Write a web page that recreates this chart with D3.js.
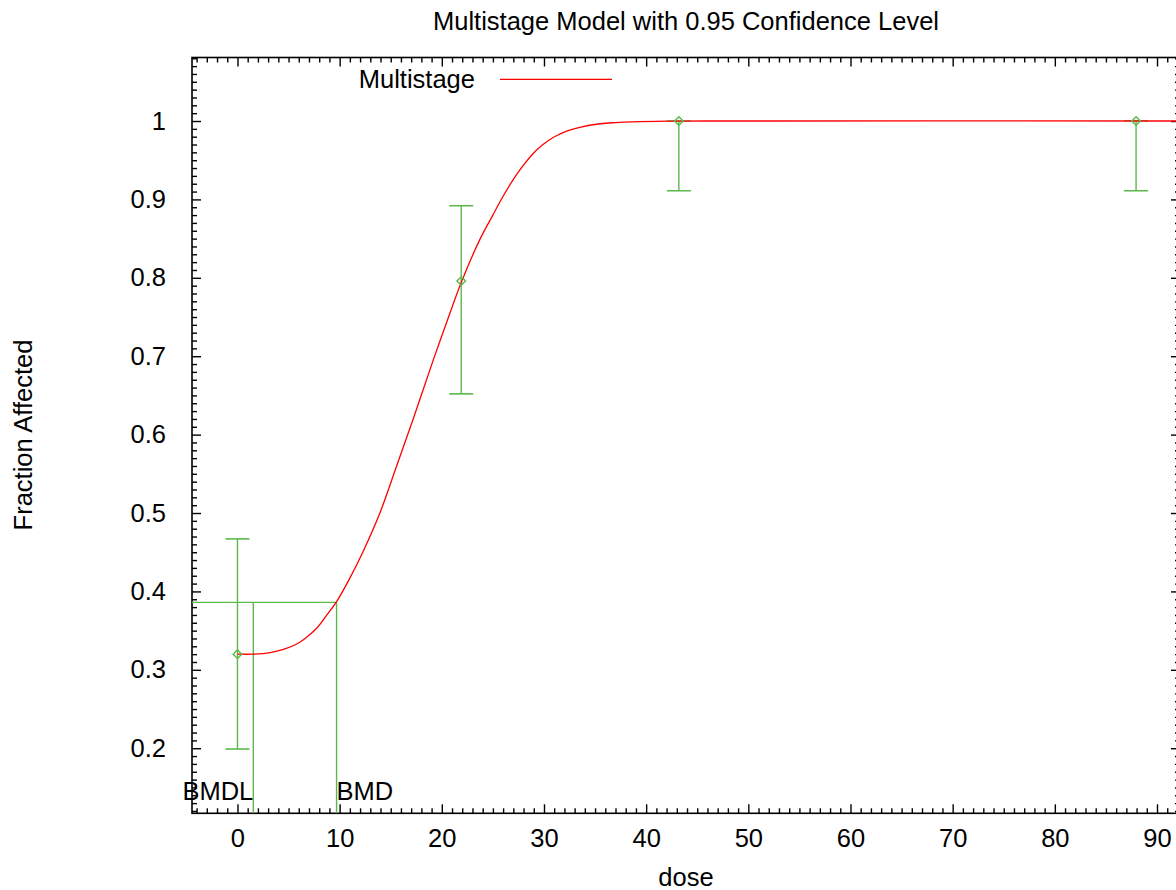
<!DOCTYPE html>
<html>
<head>
<meta charset="utf-8">
<script src="https://cdn.jsdelivr.net/npm/d3@7/dist/d3.min.js"></script>
<style>
  html, body { margin: 0; padding: 0; background: #fff; }
  svg { display: block; }
  text { font-family: "Liberation Sans", Arial, Helvetica, sans-serif; fill: #000; }
</style>
</head>
<body>
<svg id="chart" width="1176" height="890"></svg>
<script>
// ---- Data ----
const doses      = [0, 21.9, 43.2, 87.95];
const fractions  = [0.320, 0.796, 1.000, 1.000];
const ciLower    = [0.199, 0.652, 0.911, 0.911];
const ciUpper    = [0.467, 0.892, 1.000, 1.000];

// Fitted multistage curve
const curveDose     = [0, 1.5, 3.2, 4.5, 5.8, 6.8, 7.75, 8.7, 9.7, 11.0, 12.3, 13.94, 15.5, 17.2, 19.16, 20.47, 21.93, 23.73, 25.0, 26.0, 27.5, 28.9, 29.9, 30.9, 31.5, 32.2, 33.5, 35.5, 37.0, 38.7, 42, 46, 92.4];
const curveFraction = [0.320, 0.320, 0.322, 0.326, 0.333, 0.342, 0.353, 0.369, 0.387, 0.417, 0.451, 0.500, 0.557, 0.620, 0.695, 0.743, 0.795, 0.849, 0.880, 0.904, 0.935, 0.958, 0.970, 0.979, 0.983, 0.987, 0.992, 0.9965, 0.998, 0.999, 0.9998, 1.0, 1.0];

const bmd = 9.7;
const bmdl = 1.55;
const bmrLevel = 0.386;

const xTickValues = [0, 10, 20, 30, 40, 50, 60, 70, 80, 90];
const xTickLabels = ["0", "10", "20", "30", "40", "50", "60", "70", "80", "90"];
const yTickValues = [0.2, 0.3, 0.4, 0.5, 0.6, 0.7, 0.8, 0.9, 1.0];
const yTickLabels = ["0.2", "0.3", "0.4", "0.5", "0.6", "0.7", "0.8", "0.9", "1"];

const titleText = "Multistage Model with 0.95 Confidence Level";
const xLabelText = "dose";
const yLabelText = "Fraction Affected";
const legendLabel = "Multistage";

// ---- Layout ----
const pLeft = 192, pRight = 1180, pTop = 57.5, pBottom = 813.3;
const RED = "#ff0000", GREEN = "#5cb84c";
const FS = 25.5;

const svg = d3.select("#chart");

const x = d3.scaleLinear().domain([-4.45, 92.25]).range([pLeft, pRight]);
const y = d3.scaleLinear().domain([0.117, 1.081]).range([pBottom, pTop]);

const xMinor = d3.range(-4, 93, 1).filter(v => v % 10 !== 0);
const yMinor = d3.range(12, 109, 1).map(v => v / 100).filter(v => Math.round(v * 100) % 10 !== 0);

svg.append("defs").append("clipPath").attr("id", "plotclip")
  .append("rect").attr("x", pLeft).attr("y", pTop).attr("width", pRight - pLeft).attr("height", pBottom - pTop);

function styleAxis(g) {
  g.select(".domain").remove();
  g.selectAll(".tick line").attr("stroke", "#000").attr("stroke-width", 1.4);
  g.selectAll(".tick text").style("font-size", FS + "px").attr("fill", "#000")
    .style("font-family", '"Liberation Sans", Arial, sans-serif');
}

// Bottom axis
svg.append("g").attr("transform", `translate(0,${pBottom})`)
  .call(d3.axisBottom(x).tickValues(xTickValues).tickSize(-9).tickSizeOuter(0).tickPadding(16)
    .tickFormat((d, i) => xTickLabels[i]))
  .call(styleAxis);
svg.append("g").attr("transform", `translate(0,${pBottom})`)
  .call(d3.axisBottom(x).tickValues(xMinor).tickSize(-5).tickSizeOuter(0).tickFormat(""))
  .call(styleAxis);
// Top axis
svg.append("g").attr("transform", `translate(0,${pTop})`)
  .call(d3.axisTop(x).tickValues(xTickValues).tickSize(-9).tickSizeOuter(0).tickFormat(""))
  .call(styleAxis);
svg.append("g").attr("transform", `translate(0,${pTop})`)
  .call(d3.axisTop(x).tickValues(xMinor).tickSize(-5).tickSizeOuter(0).tickFormat(""))
  .call(styleAxis);
// Left axis
svg.append("g").attr("transform", `translate(${pLeft},0)`)
  .call(d3.axisLeft(y).tickValues(yTickValues).tickSize(-9).tickSizeOuter(0).tickPadding(26)
    .tickFormat((d, i) => yTickLabels[i]))
  .call(styleAxis);
svg.append("g").attr("transform", `translate(${pLeft},0)`)
  .call(d3.axisLeft(y).tickValues(yMinor).tickSize(-5).tickSizeOuter(0).tickFormat(""))
  .call(styleAxis);
// Right axis
svg.append("g").attr("transform", `translate(${pRight},0)`)
  .call(d3.axisRight(y).tickValues(yTickValues).tickSize(-9).tickSizeOuter(0).tickFormat(""))
  .call(styleAxis);
svg.append("g").attr("transform", `translate(${pRight},0)`)
  .call(d3.axisRight(y).tickValues(yMinor).tickSize(-5).tickSizeOuter(0).tickFormat(""))
  .call(styleAxis);

// Frame
svg.append("rect").attr("x", pLeft).attr("y", pTop).attr("width", pRight - pLeft).attr("height", pBottom - pTop)
  .attr("fill", "none").attr("stroke", "#000").attr("stroke-width", 1.6);

const plot = svg.append("g").attr("clip-path", "url(#plotclip)");

// BMD / BMDL guide lines
plot.append("line")
  .attr("x1", x(-4.45)).attr("x2", x(bmd)).attr("y1", y(bmrLevel)).attr("y2", y(bmrLevel))
  .attr("stroke", GREEN).attr("stroke-width", 1.4);
plot.append("line")
  .attr("x1", x(bmd)).attr("x2", x(bmd)).attr("y1", y(bmrLevel)).attr("y2", pBottom)
  .attr("stroke", GREEN).attr("stroke-width", 1.4);
plot.append("line")
  .attr("x1", x(bmdl)).attr("x2", x(bmdl)).attr("y1", y(bmrLevel)).attr("y2", pBottom)
  .attr("stroke", GREEN).attr("stroke-width", 1.4);

// Error bars
const bars = plot.selectAll("g.eb").data(doses.map((d, i) => ({d, f: fractions[i], lo: ciLower[i], hi: ciUpper[i]})))
  .enter().append("g").attr("class", "eb");
bars.append("line").attr("x1", p => x(p.d)).attr("x2", p => x(p.d))
  .attr("y1", p => y(p.lo)).attr("y2", p => y(p.hi)).attr("stroke", GREEN).attr("stroke-width", 1.4);
bars.append("line").attr("x1", p => x(p.d) - 12).attr("x2", p => x(p.d) + 12)
  .attr("y1", p => y(p.lo)).attr("y2", p => y(p.lo)).attr("stroke", GREEN).attr("stroke-width", 1.6);
bars.append("line").attr("x1", p => x(p.d) - 12).attr("x2", p => x(p.d) + 12)
  .attr("y1", p => y(p.hi)).attr("y2", p => y(p.hi)).attr("stroke", GREEN).attr("stroke-width", 1.6);

// Fitted curve
const curvePts = curveDose.map((d, i) => [d, curveFraction[i]]);
plot.append("path").datum(curvePts)
  .attr("d", d3.line().x(p => x(p[0])).y(p => y(p[1])).curve(d3.curveCatmullRom.alpha(0.5)))
  .attr("fill", "none").attr("stroke", RED).attr("stroke-width", 1.3);

// Diamond markers
plot.selectAll("path.pt").data(doses.map((d, i) => [d, fractions[i]]))
  .enter().append("path").attr("class", "pt")
  .attr("d", p => {
    const cx = x(p[0]), cy = y(p[1]), r = 4.3;
    return `M${cx},${cy - r}L${cx + r},${cy}L${cx},${cy + r}L${cx - r},${cy}Z`;
  })
  .attr("fill", "none").attr("stroke", GREEN).attr("stroke-width", 1.4);

// BMDL / BMD labels
svg.append("text").attr("x", x(bmdl)).attr("y", 800).attr("text-anchor", "end")
  .style("font-size", FS + "px").text("BMDL");
svg.append("text").attr("x", x(bmd)).attr("y", 800).attr("text-anchor", "start")
  .style("font-size", FS + "px").text("BMD");

// Legend
svg.append("text").attr("x", 475).attr("y", 87.5).attr("text-anchor", "end")
  .style("font-size", FS + "px").text(legendLabel);
svg.append("line").attr("x1", 500).attr("x2", 612).attr("y1", 79.3).attr("y2", 79.3)
  .attr("stroke", RED).attr("stroke-width", 1.3);

// Title and axis labels
svg.append("text").attr("x", 686).attr("y", 30).attr("text-anchor", "middle")
  .style("font-size", FS + "px").text(titleText);
svg.append("text").attr("x", 686).attr("y", 885.5).attr("text-anchor", "middle")
  .style("font-size", FS + "px").text(xLabelText);
svg.append("text").attr("transform", "translate(32,435) rotate(-90)").attr("text-anchor", "middle")
  .style("font-size", FS + "px").text(yLabelText);
</script>
</body>
</html>
